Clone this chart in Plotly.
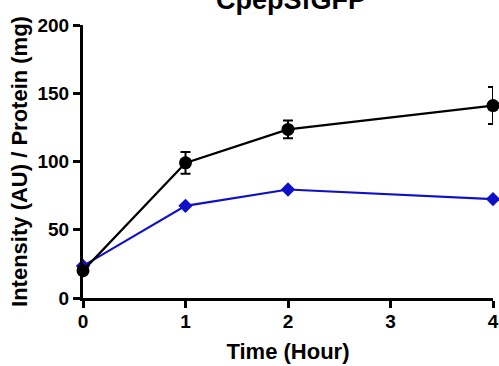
import plotly.graph_objects as go

time_h = [0, 1, 2, 4]
black_vals = [20, 99, 123.5, 141]
black_err = [2, 8, 6.5, 13.5]
blue_vals = [23.5, 67.5, 79.5, 72.5]
title_text = "CpepSfGFP"
x_title = "Time (Hour)"
y_title = "Intensity (AU) / Protein (mg)"
x_ticks = [0, 1, 2, 3, 4]
y_ticks = [0, 50, 100, 150, 200]

FONT = "Liberation Sans, Arial, sans-serif"

fig = go.Figure()
fig.add_trace(go.Scatter(
    x=time_h, y=blue_vals, mode="lines+markers",
    line=dict(color="#1010c8", width=2.2),
    marker=dict(symbol="diamond", size=11, color="#1010c8"),
    cliponaxis=False, showlegend=False))
fig.add_trace(go.Scatter(
    x=time_h, y=black_vals, mode="lines+markers",
    line=dict(color="black", width=2.2),
    marker=dict(symbol="circle", size=13, color="black"),
    error_y=dict(type="data", array=black_err, color="black", thickness=2, width=5),
    cliponaxis=False, showlegend=False))

fig.update_layout(
    width=499, height=366,
    margin=dict(l=83, r=6, t=25, b=68, autoexpand=False),
    paper_bgcolor="white", plot_bgcolor="white",
    font=dict(family=FONT, color="black"),
    title=dict(text="<b>" + title_text + "</b>", x=0.583, xanchor="center",
               yref="container", y=1.0, yanchor="middle", automargin=False,
               font=dict(size=27, family=FONT, color="black")),
    xaxis=dict(range=[0, 4], tickvals=x_ticks, ticktext=["<b>%d</b>" % v for v in x_ticks],
               showline=True, linecolor="black", linewidth=3, showgrid=False, zeroline=False,
               ticks="outside", ticklen=7, tickwidth=3, tickcolor="black", automargin=False,
               tickfont=dict(size=19, family=FONT), ticklabelstandoff=-3,
               title=dict(text="<b>" + x_title + "</b>", font=dict(size=22, family=FONT), standoff=13)),
    yaxis=dict(range=[0, 200], tickvals=y_ticks, ticktext=["<b>%d</b>" % v for v in y_ticks],
               showline=True, linecolor="black", linewidth=3, showgrid=False, zeroline=False,
               ticks="outside", ticklen=7, tickwidth=3, tickcolor="black", automargin=False,
               tickfont=dict(size=19, family=FONT),
               title=dict(text="<b>" + y_title + "</b>", font=dict(size=22, family=FONT), standoff=4)),
)

fig.write_html("out.html", config={"displayModeBar": False},
               post_script="document.body.style.margin='0';document.body.style.padding='0';")
